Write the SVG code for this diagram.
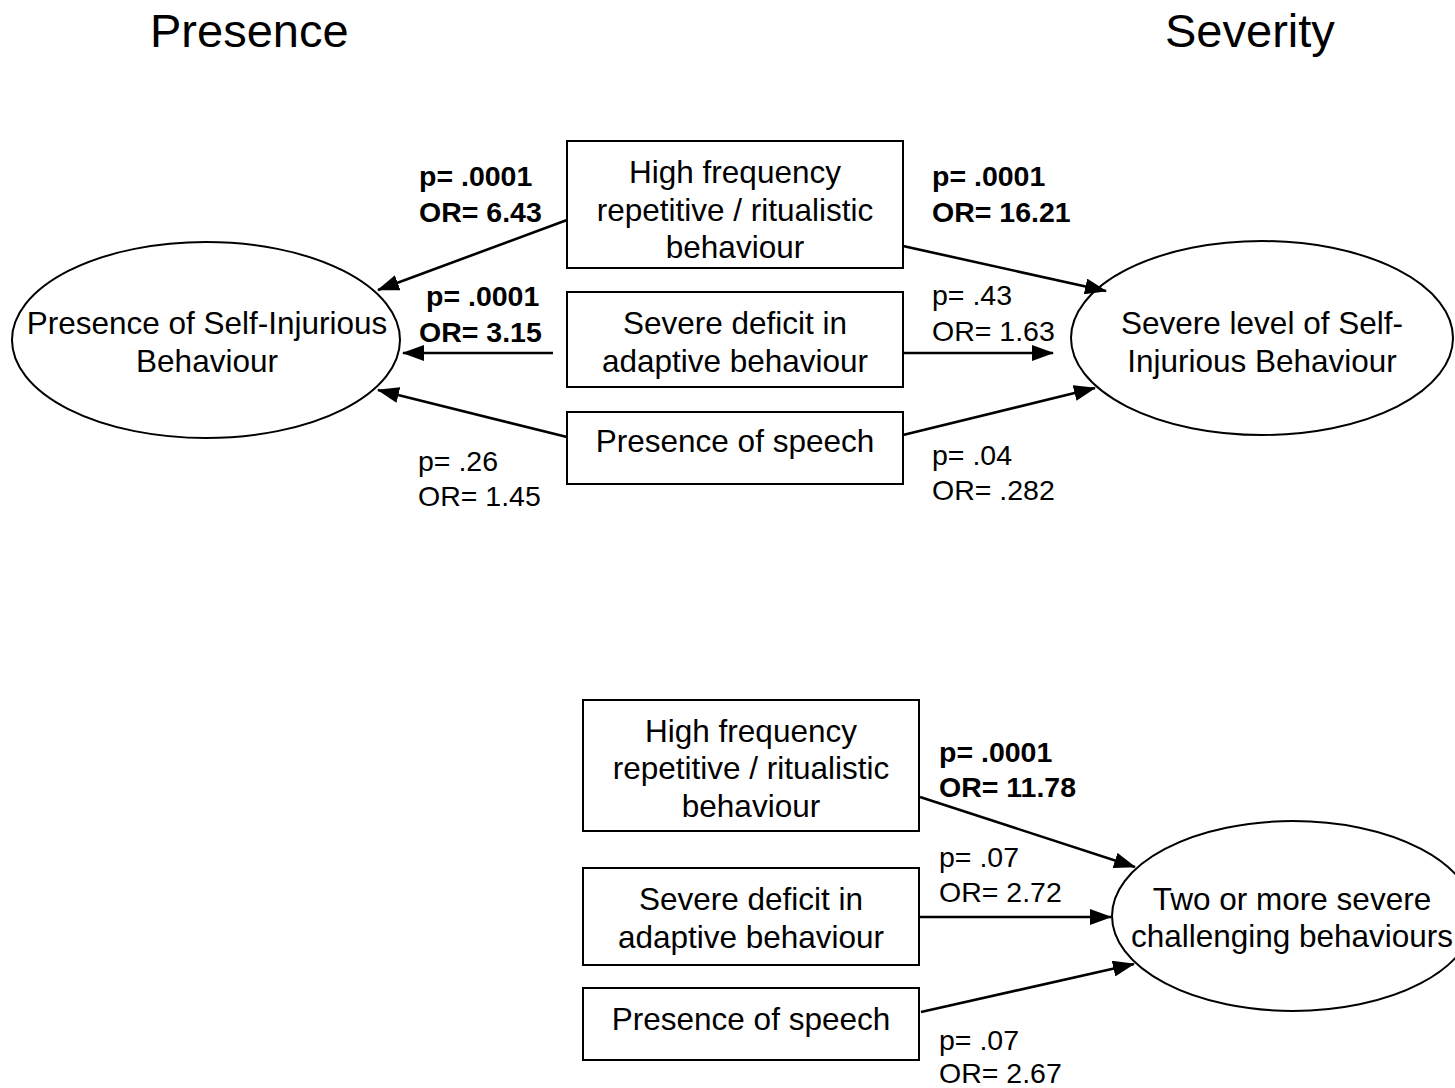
<svg xmlns="http://www.w3.org/2000/svg" width="1455" height="1088" viewBox="0 0 1455 1088">
<defs>
<marker id="arr" markerUnits="userSpaceOnUse" markerWidth="22" markerHeight="16" refX="21" refY="8" orient="auto">
<path d="M0,0 L22,8 L0,16 z" fill="#000"/>
</marker>
<style>
text{font-family:"Liberation Sans",Arial,sans-serif;fill:#000}
.title{font-size:47px}
.box{font-size:31.5px;text-anchor:middle}
.lbl{font-size:28.5px}
.b{font-weight:bold}
rect,ellipse{fill:#fff;stroke:#000;stroke-width:2}
.conn line{stroke:#000;stroke-width:2.6;marker-end:url(#arr)}
</style>
</defs>
<rect x="0" y="0" width="1455" height="1088" style="fill:#fff;stroke:none"/>
<text class="title" x="150" y="47">Presence</text>
<text class="title" x="1165" y="47">Severity</text>

<g id="ellipse-presence">
<ellipse cx="206" cy="340" rx="194" ry="98"/>
<text class="box" x="207" y="334">Presence of Self-Injurious</text>
<text class="box" x="207" y="372">Behaviour</text>
</g>
<g id="ellipse-severity">
<ellipse cx="1262" cy="338" rx="191" ry="97"/>
<text class="box" x="1262" y="334">Severe level of Self-</text>
<text class="box" x="1262" y="372">Injurious Behaviour</text>
</g>
<g id="ellipse-two">
<ellipse cx="1293" cy="916" rx="181" ry="95"/>
<text class="box" x="1292" y="910">Two or more severe</text>
<text class="box" x="1292" y="947">challenging behaviours</text>
</g>

<g id="box-top-freq">
<rect x="567" y="141" width="336" height="127"/>
<text class="box" x="735" y="183">High frequency</text>
<text class="box" x="735" y="221">repetitive / ritualistic</text>
<text class="box" x="735" y="258">behaviour</text>
</g>
<g id="box-top-adaptive">
<rect x="567" y="292" width="336" height="95"/>
<text class="box" x="735" y="334">Severe deficit in</text>
<text class="box" x="735" y="372">adaptive behaviour</text>
</g>
<g id="box-top-speech">
<rect x="567" y="412" width="336" height="72"/>
<text class="box" x="735" y="452">Presence of speech</text>
</g>

<g id="box-bot-freq">
<rect x="583" y="700" width="336" height="131"/>
<text class="box" x="751" y="742">High frequency</text>
<text class="box" x="751" y="779">repetitive / ritualistic</text>
<text class="box" x="751" y="817">behaviour</text>
</g>
<g id="box-bot-adaptive">
<rect x="583" y="868" width="336" height="97"/>
<text class="box" x="751" y="910">Severe deficit in</text>
<text class="box" x="751" y="948">adaptive behaviour</text>
</g>
<g id="box-bot-speech">
<rect x="583" y="988" width="336" height="72"/>
<text class="box" x="751" y="1030">Presence of speech</text>
</g>

<g class="conn">
<line x1="567" y1="220" x2="378" y2="290"/>
<line x1="553" y1="353" x2="403" y2="353"/>
<line x1="567" y1="437" x2="378" y2="390"/>
<line x1="903" y1="246" x2="1106" y2="291"/>
<line x1="903" y1="353" x2="1053" y2="353"/>
<line x1="903" y1="435" x2="1095" y2="388"/>
<line x1="920" y1="797" x2="1135" y2="867"/>
<line x1="920" y1="917" x2="1111" y2="917"/>
<line x1="921" y1="1012" x2="1134" y2="964"/>
</g>

<g id="labels">
<text class="lbl b" x="419" y="186">p= .0001</text>
<text class="lbl b" x="419" y="222">OR= 6.43</text>
<text class="lbl b" x="426" y="306">p= .0001</text>
<text class="lbl b" x="419" y="342">OR= 3.15</text>
<text class="lbl" x="418" y="471">p= .26</text>
<text class="lbl" x="418" y="506">OR= 1.45</text>
<text class="lbl b" x="932" y="186">p= .0001</text>
<text class="lbl b" x="932" y="222">OR= 16.21</text>
<text class="lbl" x="932" y="305">p= .43</text>
<text class="lbl" x="932" y="341">OR= 1.63</text>
<text class="lbl" x="932" y="465">p= .04</text>
<text class="lbl" x="932" y="500">OR= .282</text>
<text class="lbl b" x="939" y="762">p= .0001</text>
<text class="lbl b" x="939" y="797">OR= 11.78</text>
<text class="lbl" x="939" y="867">p= .07</text>
<text class="lbl" x="939" y="902">OR= 2.72</text>
<text class="lbl" x="939" y="1050">p= .07</text>
<text class="lbl" x="939" y="1083">OR= 2.67</text>
</g>
</svg>
